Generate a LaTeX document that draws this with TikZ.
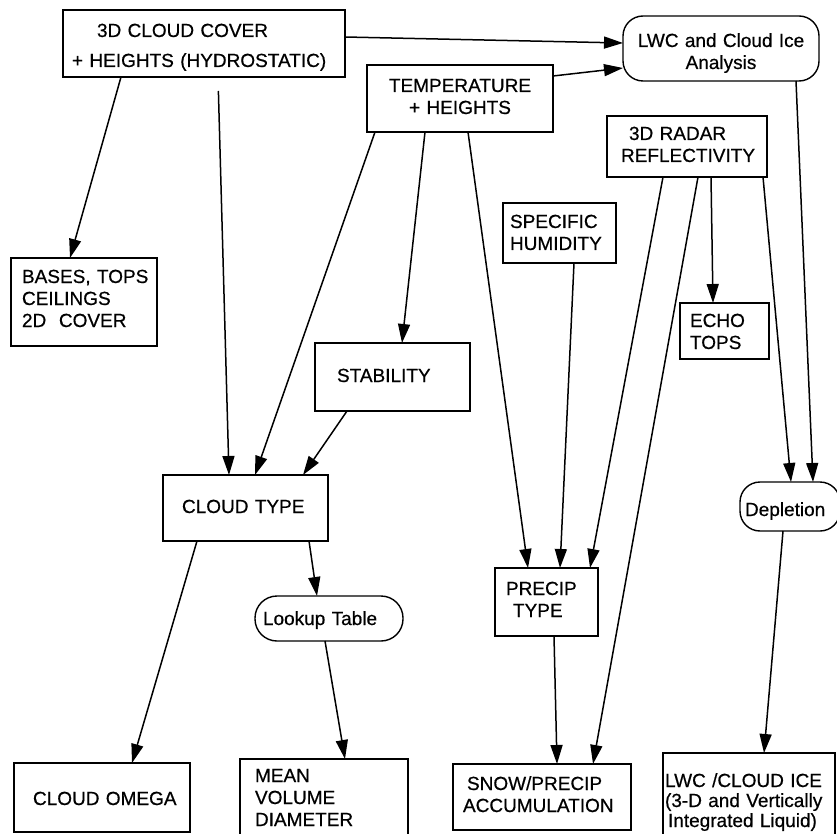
\documentclass[tikz,border=0pt]{standalone}
\usepackage{fontspec}
\setmainfont{Liberation Sans}[FakeBold=0.6]
\usetikzlibrary{arrows.meta}
\begin{document}
\begin{tikzpicture}[x=1pt,y=-1pt,
  box/.style={draw, line width=1.4pt, inner sep=0pt, outer sep=0pt, align=left,
    font=\fontsize{19}{22}\selectfont},
  rbox/.style={box, rounded corners=20pt},
  arr/.style={line width=1.5pt, -{Triangle[length=19pt,width=12pt]}}]
\useasboundingbox (0,0) rectangle (837,834);
\clip (0,0) rectangle (837,834);

\node[box, minimum width=282pt, minimum height=67pt, text width=264pt, text height=0pt, text depth=13pt] (cc) at (204,43.5)
  {\hspace*{25pt}3D CLOUD COVER\\[8pt]\mbox{+ HEIGHTS (HYDROSTATIC)}};
\node[box, minimum width=186pt, minimum height=67pt, text width=160pt, align=center, text height=0pt, text depth=13pt] (temp) at (460,98.5)
  {TEMPERATURE\\+ HEIGHTS};
\node[rbox, minimum width=196pt, minimum height=65pt, text width=180pt, align=center, text height=0pt, text depth=3pt] (lwc) at (721,48.5)
  {LWC and Cloud Ice\\Analysis};
\node[box, minimum width=160pt, minimum height=61pt, text width=132pt, text height=0pt, text depth=13pt] (rad) at (687,146.5)
  {\hspace*{8pt}3D RADAR\\\mbox{REFLECTIVITY}};
\node[box, minimum width=113pt, minimum height=60pt, text width=99pt, text height=0pt, text depth=10pt] (sh) at (559.5,233)
  {SPECIFIC\\HUMIDITY};
\node[box, minimum width=89pt, minimum height=56pt, text width=69pt, text height=0pt, text depth=8pt] (echo) at (724.5,331)
  {ECHO\\TOPS};
\node[box, minimum width=146pt, minimum height=88pt, text width=124pt, text height=0pt, text depth=38pt] (bases) at (84,302)
  {\mbox{BASES, TOPS}\\CEILINGS\\\mbox{2D\ \ COVER}};
\node[box, minimum width=155pt, minimum height=68pt, text width=111pt, text height=10pt, text depth=0pt] (stab) at (392.5,377)
  {STABILITY};
\node[box, minimum width=165pt, minimum height=66pt, text width=127pt, text height=10pt, text depth=0pt] (ct) at (245.5,508)
  {CLOUD TYPE};
\node[box, rounded corners=22pt, minimum width=148pt, minimum height=45pt, text width=132pt, text height=13pt, text depth=0pt] (lk) at (329,618.5)
  {Lookup Table};
\node[box, minimum width=176pt, minimum height=69pt, text width=138pt, text height=15pt, text depth=0pt] (co) at (102,797.5)
  {\mbox{CLOUD OMEGA}};
\node[box, minimum width=168pt, minimum height=81pt, text width=138pt, text height=0pt, text depth=35pt] (mv) at (324,799.5)
  {MEAN\\VOLUME\\DIAMETER};
\node[box, minimum width=103pt, minimum height=68pt, text width=81pt, text height=0pt, text depth=14pt] (pt) at (546.5,602)
  {PRECIP\\\hspace*{7pt}TYPE};
\node[box, minimum width=178pt, minimum height=66pt, text width=158pt, text height=0pt, text depth=14pt] (snow) at (542,797)
  {\hspace*{4pt}SNOW/PRECIP\\\mbox{ACCUMULATION}};
\node[rbox, minimum width=100pt, minimum height=49pt, text width=90pt, text height=19pt, text depth=0pt] (dep) at (790,506.5)
  {Depletion};
\node[box, minimum width=172pt, minimum height=92pt, text width=168pt, text height=0pt, text depth=24pt] (lwcice) at (749,799)
  {\mbox{LWC /CLOUD ICE}\\[-2pt]\mbox{(3-D and Vertically}\\[-2pt]\hspace*{3pt}\mbox{Integrated Liquid)}};

\draw[arr] (cc.east |- 0,37) -- (lwc.west |- 0,43);
\draw[arr] (temp.east |- 0,76) -- (lwc.west |- 0,68);
\draw[arr] (cc.south -| 121,0) -- (bases.north -| 70,0);
\draw[arr, shorten <=14pt] (cc.south -| 218,0) -- (ct.north -| 229,0);
\draw[arr] (temp.south -| 375,0) -- (ct.north -| 255,0);
\draw[arr] (temp.south -| 425,0) -- (stab.north -| 402,0);
\draw[arr] (temp.south -| 468,0) -- (pt.north -| 528,0);
\draw[arr] (stab.south -| 347,0) -- (ct.north -| 303,0);
\draw[arr] (ct.south -| 197,0) -- (co.north -| 132,0);
\draw[arr] (ct.south -| 309,0) -- (lk.north -| 317,0);
\draw[arr] (lk.south -| 325,0) -- (mv.north -| 345,0);
\draw[arr] (sh.south -| 574,0) -- (pt.north -| 560,0);
\draw[arr] (rad.south -| 663,0) -- (pt.north -| 590,0);
\draw[arr] (rad.south -| 698,0) -- (snow.north -| 593,0);
\draw[arr] (rad.south -| 711,0) -- (echo.north -| 713,0);
\draw[arr] (rad.south -| 763,0) -- (dep.north -| 791,0);
\draw[arr] (lwc.south -| 796,0) -- (dep.north -| 813,0);
\draw[arr] (pt.south -| 554,0) -- (snow.north -| 557,0);
\draw[arr] (dep.south -| 783,0) -- (lwcice.north -| 764,0);
\end{tikzpicture}
\end{document}
